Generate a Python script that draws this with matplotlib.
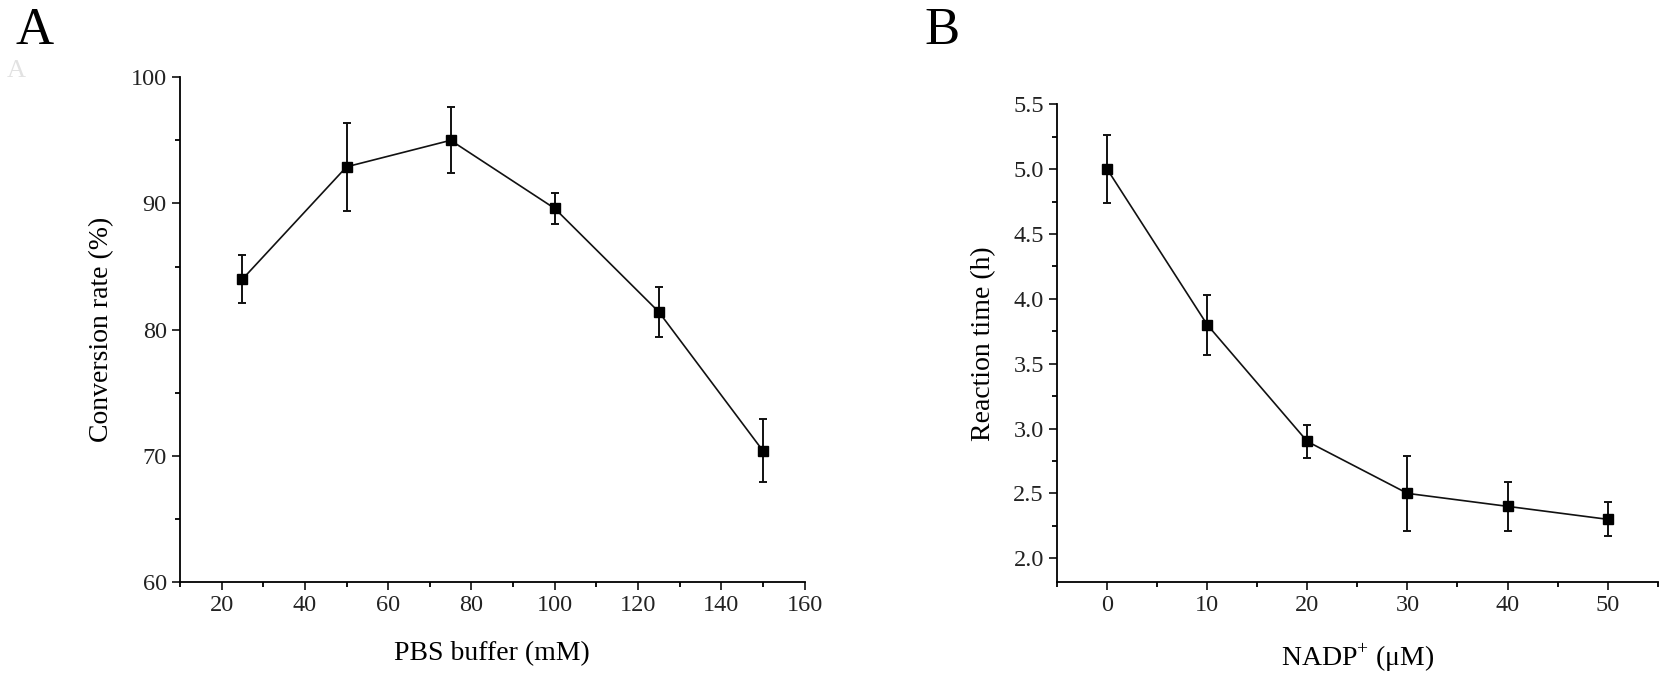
import matplotlib
import matplotlib.pyplot as plt
from matplotlib.ticker import MultipleLocator, FormatStrFormatter

matplotlib.use("Agg")

# panel A: PBS buffer concentration vs conversion rate
pbs_mm = [25, 50, 75, 100, 125, 150]
conversion = [84.0, 92.9, 95.0, 89.6, 81.4, 70.4]
conversion_err = [1.9, 3.5, 2.6, 1.2, 2.0, 2.5]

# panel B: NADP+ concentration vs reaction time
nadp_um = [0, 10, 20, 30, 40, 50]
reaction_h = [5.0, 3.8, 2.9, 2.5, 2.4, 2.3]
reaction_err = [0.26, 0.23, 0.13, 0.29, 0.19, 0.13]

plt.rcParams["font.family"] = ["Liberation Serif", "DejaVu Serif"]
plt.rcParams["mathtext.fontset"] = "custom"
plt.rcParams["mathtext.rm"] = "Liberation Serif"

fig = plt.figure(figsize=(16.66, 6.77), dpi=100)
ax_a = fig.add_axes([0.108, 0.140, 0.375, 0.746])
ax_b = fig.add_axes([0.6345, 0.140, 0.3605, 0.706])


def style(ax):
    for side in ("top", "right"):
        ax.spines[side].set_visible(False)
    for side in ("left", "bottom"):
        ax.spines[side].set_linewidth(1.3)
    ax.tick_params(which="major", direction="out", length=6, width=1.3,
                   labelsize=17.5, colors="#222222")
    ax.tick_params(which="minor", direction="out", length=3.5, width=1.3)


def draw(ax, x, y, err):
    ax.errorbar(x, y, yerr=err, color="#111111", lw=1.2, elinewidth=1.4,
                capsize=2.8, capthick=1.4, marker="s", ms=7, mfc="black",
                mec="black", clip_on=False)


draw(ax_a, pbs_mm, conversion, conversion_err)
ax_a.set_xlim(10, 160)
ax_a.set_ylim(60, 100)
ax_a.xaxis.set_major_locator(MultipleLocator(20))
ax_a.xaxis.set_minor_locator(MultipleLocator(10))
ax_a.yaxis.set_major_locator(MultipleLocator(10))
ax_a.yaxis.set_minor_locator(MultipleLocator(5))
ax_a.set_xlabel("PBS buffer (mM)", fontsize=20, labelpad=18)
ax_a.set_ylabel("Conversion rate (%)", fontsize=20, labelpad=12)
style(ax_a)

draw(ax_b, nadp_um, reaction_h, reaction_err)
ax_b.set_xlim(-5, 55)
ax_b.set_ylim(1.815, 5.5)
ax_b.xaxis.set_major_locator(MultipleLocator(10))
ax_b.xaxis.set_minor_locator(MultipleLocator(5))
ax_b.yaxis.set_major_locator(MultipleLocator(0.5))
ax_b.yaxis.set_minor_locator(MultipleLocator(0.25))
ax_b.yaxis.set_major_formatter(FormatStrFormatter("%.1f"))
ax_b.set_xlabel("NADP$^{+}$ (μM)", fontsize=20, labelpad=18)
ax_b.set_ylabel("Reaction time (h)", fontsize=20, labelpad=12)
style(ax_b)

fig.text(0.0096, 0.935, "A", fontsize=38, ha="left", va="baseline")
fig.text(0.004, 0.886, "A", fontsize=19, color="#e2e2e2", ha="left", va="baseline")
fig.text(0.555, 0.935, "B", fontsize=38, ha="left", va="baseline")

fig.savefig("out.png", dpi=100)
